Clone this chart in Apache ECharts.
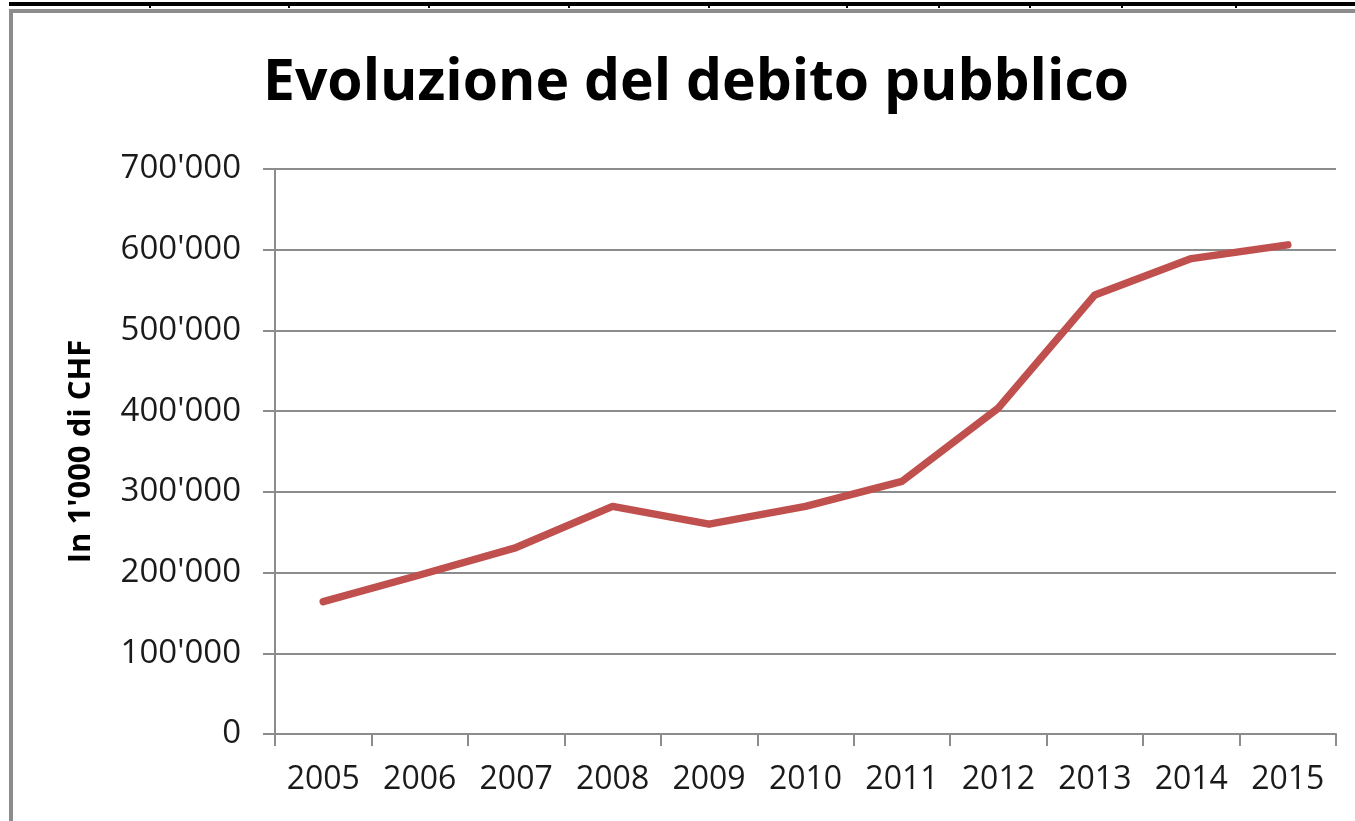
<!DOCTYPE html>
<html>
<head>
<meta charset="utf-8">
<script src="https://cdn.jsdelivr.net/npm/echarts@6/dist/echarts.min.js"></script>
<style>
html,body{margin:0;padding:0;background:#fff;}
#chart{width:1355px;height:821px;}
</style>
</head>
<body>
<div id="chart"></div>
<script>
const titleText = "Evoluzione del debito pubblico";
const yAxisName = "In 1'000 di CHF";
const years = ["2005","2006","2007","2008","2009","2010","2011","2012","2013","2014","2015"];
const debt = [164000, 197000, 231000, 282000, 260000, 282000, 313000, 404000, 544000, 589000, 606000];
const yTicks = [0, 100000, 200000, 300000, 400000, 500000, 600000, 700000];
const cellTicksX = [150, 289, 429, 569, 709, 847, 939, 1030, 1122, 1236];

function fmt(v){
  if (v === 0) return "0";
  const s = String(v);
  return s.slice(0, s.length-3) + "'" + s.slice(s.length-3);
}

const chart = echarts.init(document.getElementById('chart'), null, {renderer:'canvas'});
const graphics = [
  {type:'rect', shape:{x:9, y:2, width:1346, height:4}, style:{fill:'#000'}, silent:true},
  {type:'rect', shape:{x:9, y:9, width:1346, height:4}, style:{fill:'#8c8c8c'}, silent:true},
  {type:'rect', shape:{x:9, y:9, width:4, height:812}, style:{fill:'#8c8c8c'}, silent:true}
];
cellTicksX.forEach(x => graphics.push({type:'rect', shape:{x:x-1, y:2, width:2, height:6}, style:{fill:'#000'}, silent:true}));

chart.setOption({
  animation:false,
  backgroundColor:'#fff',
  title:{
    text:titleText,
    left:258, top:50,
    textStyle:{fontFamily:'Open Sans', fontWeight:'bold', fontSize:57, color:'#000'}
  },
  graphic:graphics,
  grid:{left:275, right:19, top:169, bottom:87, containLabel:false},
  xAxis:{
    type:'category',
    data:years,
    boundaryGap:true,
    axisLine:{show:true, lineStyle:{color:'#8c8c8c', width:2}},
    axisTick:{show:true, length:12, alignWithLabel:false, lineStyle:{color:'#8c8c8c', width:2}},
    axisLabel:{margin:30, fontFamily:'Open Sans', fontSize:32, color:'#1a1a1a'},
    splitLine:{show:false}
  },
  yAxis:{
    type:'value',
    min:0, max:700000, interval:100000,
    name:yAxisName,
    nameLocation:'middle',
    nameGap:178,
    nameRotate:90,
    nameTextStyle:{fontFamily:'Open Sans', fontWeight:'bold', fontSize:31, color:'#000'},
    axisLine:{show:true, lineStyle:{color:'#8c8c8c', width:2}},
    axisTick:{show:true, length:12, lineStyle:{color:'#8c8c8c', width:2}},
    axisLabel:{margin:34, fontFamily:'Open Sans', fontSize:33, color:'#1a1a1a',
      formatter:function(v){ return yTicks.indexOf(v) >= 0 ? fmt(v) : ''; }},
    splitLine:{show:true, lineStyle:{color:'#8c8c8c', width:2}}
  },
  series:[{
    type:'line',
    data:debt,
    symbol:'none',
    lineStyle:{color:'#c0504d', width:7.5, cap:'round', join:'round'},
    itemStyle:{color:'#c0504d'}
  }]
});
</script>
</body>
</html>
